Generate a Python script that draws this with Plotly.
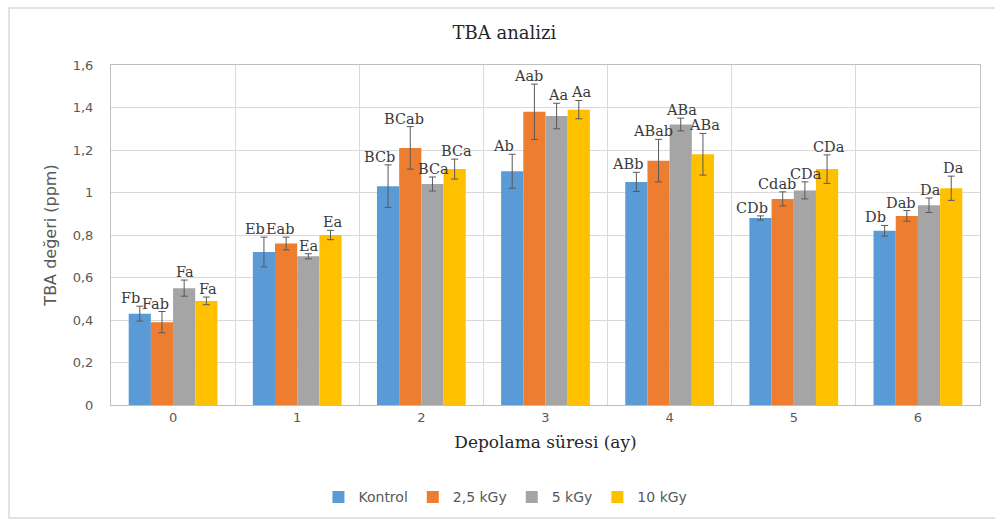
import plotly.graph_objects as go

months = ["0", "1", "2", "3", "4", "5", "6"]
series_names = ["Kontrol", "2,5 kGy", "5 kGy", "10 kGy"]
colors = ["#5B9BD5", "#ED7D31", "#A5A5A5", "#FFC000"]

kontrol = [0.43, 0.72, 1.03, 1.10, 1.05, 0.88, 0.82]
kgy25 = [0.39, 0.76, 1.21, 1.38, 1.15, 0.97, 0.89]
kgy5 = [0.55, 0.70, 1.04, 1.36, 1.32, 1.01, 0.94]
kgy10 = [0.49, 0.80, 1.11, 1.39, 1.18, 1.11, 1.02]

err_kontrol = [0.035, 0.07, 0.10, 0.08, 0.045, 0.01, 0.025]
err_kgy25 = [0.05, 0.03, 0.10, 0.13, 0.10, 0.033, 0.025]
err_kgy5 = [0.038, 0.012, 0.033, 0.06, 0.03, 0.04, 0.034]
err_kgy10 = [0.018, 0.022, 0.047, 0.043, 0.098, 0.067, 0.057]

lab_kontrol = ["Fb", "Eb", "BCb", "Ab", "ABb", "CDb", "Db"]
lab_kgy25 = ["Fab", "Eab", "BCab", "Aab", "ABab", "Cdab", "Dab"]
lab_kgy5 = ["Fa", "Ea", "BCa", "Aa", "ABa", "CDa", "Da"]
lab_kgy10 = ["Fa", "Ea", "BCa", "Aa", "ABa", "CDa", "Da"]

values = [kontrol, kgy25, kgy5, kgy10]
errors = [err_kontrol, err_kgy25, err_kgy5, err_kgy10]
labels = [lab_kontrol, lab_kgy25, lab_kgy5, lab_kgy10]

fig = go.Figure()
for i in range(4):
    fig.add_trace(go.Bar(
        x=months, y=values[i], name=series_names[i],
        marker=dict(color=colors[i], line=dict(width=0)),
        error_y=dict(type="data", array=errors[i], visible=True,
                     color="#595959", thickness=1, width=3.5),
        offsetgroup=str(i),
    ))

# letter labels above error bars
bargap = 0.285
group_w = 1 - bargap
bar_w = group_w / 4
label_xshift = [-9, -6, 1, 2]
for i in range(4):
    for j, m in enumerate(months):
        xpos = j - group_w / 2 + bar_w * (i + 0.5)
        fig.add_annotation(
            x=xpos, y=values[i][j] + errors[i][j], xref="x", yref="y",
            text=labels[i][j], showarrow=False, yanchor="bottom", yshift=-2,
            xshift=label_xshift[i],
            font=dict(family="DejaVu Serif", size=14.5, color="#3a3a3a"),
        )

L, R, T, B = 111, 15, 65, 119
W, H = 995, 524
pw = W - L - R
ph = H - T - B

# outer chart border
fig.add_shape(type="rect", xref="paper", yref="paper",
              x0=(9 - L) / pw, x1=(W + 5 - L) / pw,
              y0=(H - B - 518) / ph, y1=(H - B - 8) / ph,
              line=dict(color="#D9D9D9", width=1.5), layer="below")

fig.update_layout(
    width=W, height=H,
    margin=dict(l=L, r=R, t=T, b=B),
    paper_bgcolor="white", plot_bgcolor="white",
    separators=", ",
    barmode="group", bargap=bargap, bargroupgap=0,
    title=dict(text="TBA analizi", x=0.507, xref="container", y=0.937, yref="container",
               xanchor="center", yanchor="middle",
               font=dict(family="DejaVu Serif", size=18, color="#262626")),
    showlegend=True,
    legend=dict(orientation="h", x=0.508, xref="container", xanchor="center",
                y=0.051, yref="container", yanchor="middle",
                font=dict(family="DejaVu Sans", size=14, color="#595959"),
                itemwidth=30, traceorder="normal"),
    xaxis=dict(
        type="category", tickson="boundaries", showgrid=True, gridcolor="#D9D9D9",
        showline=True, linecolor="#BFBFBF", mirror=True, ticks="",
        tickfont=dict(family="DejaVu Sans", size=13, color="#595959"),
        title=dict(text="Depolama süresi (ay)", standoff=12,
                   font=dict(family="DejaVu Serif", size=17, color="#262626")),
    ),
    yaxis=dict(
        range=[0, 1.6], dtick=0.2, showgrid=True, gridcolor="#D9D9D9",
        showline=True, linecolor="#BFBFBF", mirror=True, ticks="",
        zeroline=False, ticklabelstandoff=14,
        tickfont=dict(family="DejaVu Sans", size=13, color="#595959"),
        title=dict(text="TBA değeri (ppm)", standoff=12,
                   font=dict(family="DejaVu Sans", size=16, color="#595959")),
    ),
)

fig.write_html("out.html", config={"displayModeBar": False},
               post_script="document.body.style.margin='0px';")
